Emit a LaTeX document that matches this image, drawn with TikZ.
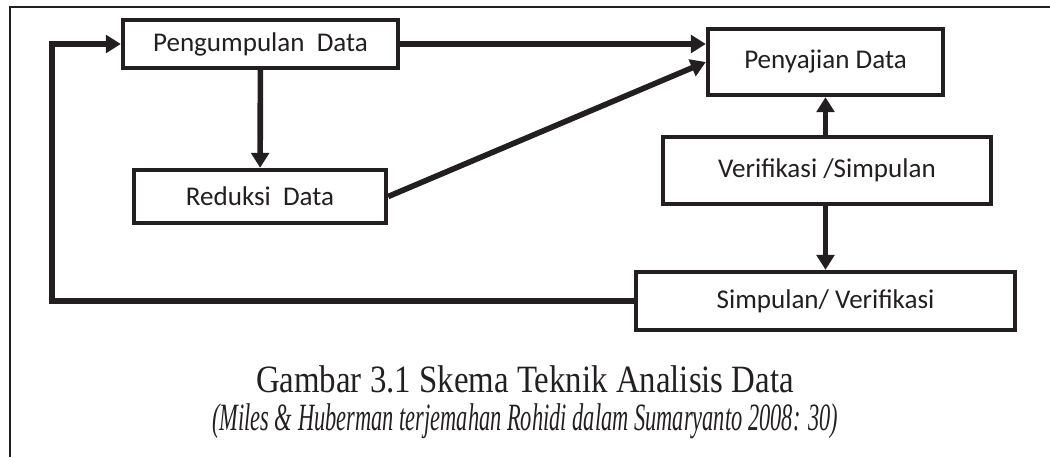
\documentclass[tikz,border=0pt]{standalone}
\usepackage{fontspec}
\newfontfamily\boxfont{Carlito}
\newfontfamily\capfont[FakeStretch=0.85]{Liberation Serif}
\newfontfamily\capfontit[FakeStretch=0.58]{Liberation Serif}
\usetikzlibrary{arrows.meta,positioning}
\definecolor{ink}{RGB}{35,31,32}

\begin{document}
\begin{tikzpicture}[x=0.02cm, y=-0.02cm,
		box/.style={draw=ink, line width=2.5pt, text=ink, inner sep=0pt,
			font={\boxfont\fontsize{15.4}{18}\selectfont}},
		arr/.style={draw=ink, line width=3.2pt, -{Triangle[length=8.5pt,width=10pt]}},
		frame/.style={draw=ink, line width=1.1pt},
		capt/.style={text=ink, inner sep=0pt}]
		\useasboundingbox (0,0) rectangle (1050,457);
		
		% Define nodes
		\node[box, minimum width=5.5cm, minimum height=0.96cm] (pd) at (260.5,44) {Pengumpulan~~Data};
		\node[box, minimum width=5.04cm, minimum height=1.06cm] (rd) at (260,196.5) {Reduksi~~Data};
		\node[box, minimum width=4.7cm, minimum height=1.32cm] (sd) at (825.5,62) {Penyajian Data};
		\node[box, minimum width=6.56cm, minimum height=1.34cm] (vs) at (827,170.5) {Verifikasi /Simpulan};
		\node[box, minimum width=7.58cm, minimum height=1.16cm] (sv) at (825.5,301) {Simpulan/ Verifikasi};
		\node[capt, font={\capfont\fontsize{22}{26}\selectfont}] (cap1) at (525,379) {Gambar 3.1 Skema Teknik Analisis Data};
		\node[capt, font={\capfontit\itshape\fontsize{22}{26}\selectfont}] (cap2) at (525,421) {(Miles \& Huberman terjemahan Rohidi dalam Sumaryanto 2008: 30)};
		\coordinate (lp) at (52,40);
		\coordinate (fa) at (10,457);
		\coordinate (fb) at (10,7);
		\coordinate (fc) at (1050,7);
		
		% Draw frame
		\draw[frame] (fa) -- (fb) -- (fc);
		
		% Draw arrows
		\draw[arr] (pd.east) -- (pd.east -| sd.west);
		\draw[arr] (pd) -- (rd);
		\draw[arr] (rd.east) -- (sd.west);
		\draw[arr] (vs.north -| sd) -- (sd.south);
		\draw[arr] (vs.south -| sv) -- (sv.north);
		\draw[arr] (sv.west) -- (sv.west -| lp) |- (pd.west);
	\end{tikzpicture}
\end{document}
